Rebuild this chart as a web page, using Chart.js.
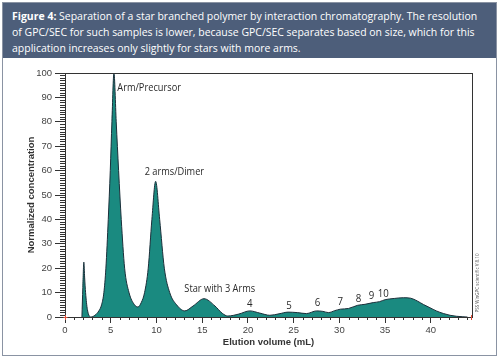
<!DOCTYPE html>
<html>
<head>
<meta charset="utf-8">
<script src="https://cdn.jsdelivr.net/npm/chart.js@4"></script>
<style>
body { margin: 0; width: 500px; height: 361px; background: #fff; overflow: hidden; font-family: "Open Sans", sans-serif; }
#frame { position: absolute; left: 2px; top: 2px; width: 493px; height: 352px; border: 1px solid #8a93a3; }
#head { position: absolute; left: 0; top: 0; width: 493px; height: 55px; background: #4d5e7a; color: #fff; }
#head div { position: absolute; left: 9px; white-space: nowrap; font-size: 11.5px; line-height: 16px; }
canvas { position: absolute; left: 0; top: 0; }
</style>
</head>
<body>
<div id="frame">
  <div id="head">
    <div id="l1" style="top:5px"><b>Figure 4:</b> Separation of a star branched polymer by interaction chromatography. The resolution</div>
    <div style="top:21px">of GPC/SEC for such samples is lower, because GPC/SEC separates based on size, which for this</div>
    <div style="top:37px">application increases only slightly for stars with more arms.</div>
  </div>
</div>
<canvas id="c" width="500" height="361"></canvas>
<script>
// fit header font to the reference line width
const l1 = document.getElementById('l1');
const fs = 11.5 * 466 / l1.getBoundingClientRect().width;
document.querySelectorAll('#head div').forEach(d => d.style.fontSize = fs + 'px');

// chromatogram
const elution = [1.85, 1.95, 2.06, 2.15, 2.25, 2.45, 2.85, 3.3, 3.7, 4.0, 4.25, 4.47, 4.73, 4.95, 5.13, 5.35,
  5.6, 5.86, 6.15, 6.52, 7.0, 7.6, 7.97, 8.35, 8.7, 9.1, 9.5, 9.91, 10.35, 10.86, 11.45, 12.2, 13.1,
  14.0, 15.2, 16.4, 17.2, 17.8, 19.0, 20.2, 21.3, 22.4, 23.4, 24.4, 25.4, 26.4, 27.5, 28.2, 28.8, 29.5, 30.1,
  31.0, 32.0, 32.8, 33.7, 34.4, 35.0, 36.0, 37.0, 37.8, 38.5, 39.2, 39.9, 40.6, 41.4, 42.1, 42.8, 43.5, 44.0];
const conc = [0, 12, 22.5, 16, 10, 3, 0, 0.8, 2.5, 5, 10, 20, 40, 60, 80, 100,
  80, 60, 40, 20, 10, 5, 4.1, 6, 10, 20, 40, 55.6, 40, 20, 10, 5, 2.5,
  4.5, 7.5, 4.5, 1.5, 0.4, 1.2, 2.5, 1.6, 0.7, 1.3, 2.0, 1.8, 1.4, 2.5, 2.3, 1.8, 2.6, 3.2,
  3.5, 4.8, 5.2, 5.9, 6.3, 7.1, 7.6, 7.9, 7.7, 6.6, 5.1, 3.8, 2.5, 1.4, 0.7, 0.3, 0.1, 0];

// peak annotations (centre of text, in data units)
const peakLabels = ['Arm/Precursor', '2 arms/Dimer', 'Star with 3 Arms', '4', '5', '6', '7', '8', '9', '10'];
const labelX = [9.2, 11.96, 16.92, 20.2, 24.5, 27.6, 30.1, 32.1, 33.5, 34.8];
const labelY = [94.0, 59.3, 11.6, 5.2, 4.4, 5.7, 6.4, 7.4, 8.5, 9.4];

const points = elution.map((v, i) => ({x: v, y: conc[i]}));

const extras = {
  id: 'extras',
  afterDatasetsDraw(chart) {
    const {ctx, scales: {x, y}} = chart;
    ctx.save();
    ctx.fillStyle = '#2a2a2a';
    ctx.textAlign = 'center';
    ctx.textBaseline = 'middle';
    peakLabels.forEach((t, i) => {
      ctx.font = (i < 3 ? '10.5px' : '11px') + ' "Open Sans"';
      ctx.save();
      ctx.translate(x.getPixelForValue(labelX[i]), y.getPixelForValue(labelY[i]));
      ctx.scale(0.88, 1);
      ctx.fillText(t, 0, 0);
      ctx.restore();
    });
    ctx.restore();
  },
  afterDraw(chart) {
    const {ctx, chartArea: a, scales: {x, y}} = chart;
    ctx.save();
    ctx.strokeStyle = '#333';
    ctx.lineWidth = 1;
    ctx.strokeRect(a.left + 0.5, a.top + 0.5, a.right - a.left, a.bottom - a.top);
    // minor ticks
    ctx.beginPath();
    for (let v = 1; v <= 44; v++) {
      if (v % 5 === 0) continue;
      const px = Math.round(x.getPixelForValue(v)) + 0.5;
      ctx.moveTo(px, a.bottom);
      ctx.lineTo(px, a.bottom + 3);
    }
    for (let v = 1; v < 100; v++) {
      if (v % 10 === 0) continue;
      const py = Math.round(y.getPixelForValue(v)) + 0.5;
      ctx.moveTo(a.left - 5, py);
      ctx.lineTo(a.left, py);
    }
    ctx.stroke();
    // red end marks
    ctx.strokeStyle = '#e0503a';
    ctx.beginPath();
    const x0 = Math.round(x.getPixelForValue(0)) + 0.5;
    const x1 = Math.round(x.getPixelForValue(x.max)) - 0.5;
    ctx.moveTo(x0, a.bottom - 2); ctx.lineTo(x0, a.bottom + 3);
    ctx.moveTo(x0 - 2, a.bottom + 0.5); ctx.lineTo(x0 + 2, a.bottom + 0.5);
    ctx.moveTo(x1, a.bottom - 2); ctx.lineTo(x1, a.bottom + 3);
    ctx.stroke();
    // software stamp
    ctx.fillStyle = '#555';
    ctx.font = '4.5px "Open Sans"';
    ctx.textAlign = 'center';
    ctx.textBaseline = 'middle';
    ctx.translate(478, 283);
    ctx.rotate(-Math.PI / 2);
    ctx.fillText('PSS WinGPC scientific V 8.10', 0, 0);
    ctx.restore();
  }
};

new Chart(document.getElementById('c'), {
  type: 'scatter',
  data: {
    datasets: [{
      data: points,
      showLine: true,
      fill: 'origin',
      backgroundColor: '#1a8a80',
      borderColor: '#1b2f3a',
      borderWidth: 1,
      pointRadius: 0,
      cubicInterpolationMode: 'monotone'
    }]
  },
  options: {
    responsive: false,
    animation: false,
    devicePixelRatio: 1,
    layout: { padding: { top: 73, right: 28, bottom: 0, left: 4 } },
    plugins: { legend: { display: false }, tooltip: { enabled: false } },
    scales: {
      x: {
        type: 'linear',
        min: 0,
        max: 44.5,
        afterFit: (s) => { s.height = 44; },
        border: { color: '#333' },
        grid: { drawOnChartArea: false, tickLength: 6, tickColor: '#333' },
        ticks: { stepSize: 5, includeBounds: false, padding: 2, color: '#444', font: { family: 'Liberation Sans', size: 9.5 } },
        title: { display: true, text: 'Elution volume (mL)', color: '#333', font: { family: 'Liberation Sans', size: 9.5, weight: 'bold' }, padding: { top: 0, bottom: 13 } }
      },
      y: {
        min: 0,
        max: 100,
        afterFit: (s) => { s.width = 61; },
        border: { color: '#333' },
        grid: { drawOnChartArea: false, tickLength: 10, tickColor: '#333' },
        ticks: { stepSize: 10, padding: 3, color: '#444', font: { family: 'Liberation Sans', size: 9.5 } },
        title: { display: true, text: 'Normalized concentration', color: '#333', font: { family: 'Liberation Sans', size: 9.5, weight: 'bold' }, padding: { top: 22, bottom: 0 } }
      }
    }
  },
  plugins: [extras]
});
</script>
</body>
</html>
